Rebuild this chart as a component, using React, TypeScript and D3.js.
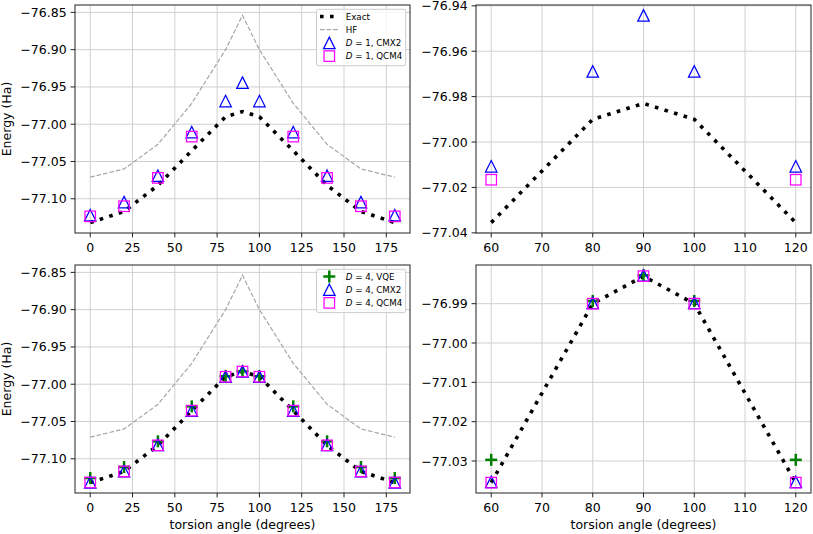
import React from "react";
import * as d3 from "d3";

// torsion angles (degrees)
const angles = [0, 20, 40, 60, 80, 90, 100, 120, 140, 160, 180];

// energies (Ha)
const exactE = [-77.132, -77.117, -77.082, -77.0355, -76.99, -76.983, -76.99, -77.0355, -77.082, -77.117, -77.132];
const hfE = [-77.071, -77.06, -77.027, -76.972, -76.9, -76.854, -76.9, -76.972, -77.027, -77.06, -77.071];
const d1Cmx2 = [-77.122, -77.1045, -77.069, -77.0107, -76.9689, -76.9442, -76.9689, -77.0107, -77.069, -77.1045, -77.122];
const d1Qcm4 = [-77.1236, -77.11, -77.072, -77.0166, null, null, null, -77.0166, -77.072, -77.11, -77.1236];
const d4Vqe = [-77.1258, -77.111, -77.0766, -77.0297, -76.9893, -76.9828, -76.9893, -77.0297, -77.0766, -77.111, -77.1258];
const d4Cmx2 = [-77.1315, -77.1165, -77.0815, -77.0353, -76.9898, -76.9828, -76.9898, -77.0353, -77.0815, -77.1165, -77.1315];
const d4Qcm4 = [-77.1318, -77.117, -77.082, -77.0355, -76.99, -76.983, -76.99, -77.0355, -77.082, -77.117, -77.1318];

// tick labels
const xTicksFull = [0, 25, 50, 75, 100, 125, 150, 175];
const xTicksZoom = [60, 70, 80, 90, 100, 110, 120];
const yTicksFull = [-77.1, -77.05, -77.0, -76.95, -76.9, -76.85];
const yTicksTopZoom = [-77.04, -77.02, -77.0, -76.98, -76.96, -76.94];
const yTicksBotZoom = [-77.03, -77.02, -77.01, -77.0, -76.99];

const FONT = "DejaVu Sans";
const fmt = d3.format(".2f");

type Kind = "exact" | "hf" | "tri" | "sq" | "plus";
type Series = { kind: Kind; values: (number | null)[]; label?: string[] };

const Marker = ({ kind, x, y }: { kind: Kind; x: number; y: number }) => {
  if (kind === "tri") {
    const s = 11.5;
    return (
      <path
        d={`M${x},${y - s / 2}L${x + s / 2},${y + s / 2}L${x - s / 2},${y + s / 2}Z`}
        fill="none"
        stroke="#0000ff"
        strokeWidth={1.25}
      />
    );
  }
  if (kind === "sq") {
    const s = 10.5;
    return <rect x={x - s / 2} y={y - s / 2} width={s} height={s} fill="none" stroke="#ff00ff" strokeWidth={1.25} />;
  }
  if (kind === "plus") {
    const s = 12;
    return (
      <g stroke="#008000" strokeWidth={2.5}>
        <line x1={x - s / 2} x2={x + s / 2} y1={y} y2={y} />
        <line x1={x} x2={x} y1={y - s / 2} y2={y + s / 2} />
      </g>
    );
  }
  return null;
};

const lineStyle = (kind: Kind) =>
  kind === "exact"
    ? { stroke: "#000", strokeWidth: 3.6, strokeDasharray: "3.6 6.4" }
    : { stroke: "#a6a6a6", strokeWidth: 1.2, strokeDasharray: "4.6 2" };

type PanelProps = {
  id: string;
  left: number;
  top: number;
  width: number;
  height: number;
  xRange: [number, number];
  xTicks: number[];
  yTicks: number[];
  series: Series[];
  legendTop?: number;
  xLabel?: boolean;
  yLabel?: boolean;
};

const Panel = ({ id, left, top, width, height, xRange, xTicks, yTicks, series, legendTop, xLabel, yLabel }: PanelProps) => {
  // matplotlib style 5% margins around the visible data
  const pts: [number, number][] = [];
  series.forEach((s) =>
    s.values.forEach((v, i) => {
      if (v != null && angles[i] >= xRange[0] && angles[i] <= xRange[1]) pts.push([angles[i], v]);
    })
  );
  const [x0, x1] = d3.extent(pts, (p) => p[0]) as [number, number];
  const [y0, y1] = d3.extent(pts, (p) => p[1]) as [number, number];
  const mx = (x1 - x0) * 0.05;
  const my = (y1 - y0) * 0.05;
  const xScale = d3.scaleLinear().domain([x0 - mx, x1 + mx]).range([left, left + width]);
  const yScale = d3.scaleLinear().domain([y0 - my, y1 + my]).range([top + height, top]);

  const lineGen = d3
    .line<[number, number]>()
    .x((d) => xScale(d[0]))
    .y((d) => yScale(d[1]));

  const legendItems = series.filter((s) => s.label);
  const lx = left + width - 93.5;
  const lh = legendItems.length * 13.1 + 4;

  return (
    <g>
      <defs>
        <clipPath id={id}>
          <rect x={left} y={top} width={width} height={height} />
        </clipPath>
      </defs>
      {/* grid */}
      <g stroke="#d0d0d0" strokeWidth={1}>
        {xTicks.map((t) => (
          <line key={"gx" + t} x1={xScale(t)} x2={xScale(t)} y1={top} y2={top + height} />
        ))}
        {yTicks.map((t) => (
          <line key={"gy" + t} x1={left} x2={left + width} y1={yScale(t)} y2={yScale(t)} />
        ))}
      </g>
      <g clipPath={`url(#${id})`}>
        {series.map((s, si) => {
          const data = s.values
            .map((v, i) => [angles[i], v] as [number, number | null])
            .filter((d) => d[1] != null && d[0] >= xRange[0] && d[0] <= xRange[1]) as [number, number][];
          if (s.kind === "exact" || s.kind === "hf") {
            return <path key={si} d={lineGen(data) || ""} fill="none" {...lineStyle(s.kind)} />;
          }
          return (
            <g key={si}>
              {data.map((d, i) => (
                <Marker key={i} kind={s.kind} x={xScale(d[0])} y={yScale(d[1])} />
              ))}
            </g>
          );
        })}
      </g>
      {/* spines */}
      <rect x={left} y={top} width={width} height={height} fill="none" stroke="#222" strokeWidth={1} />
      {/* ticks */}
      <g fontFamily={FONT} fontSize={12.5} fill="#000">
        {xTicks.map((t) => (
          <g key={"tx" + t}>
            <line x1={xScale(t)} x2={xScale(t)} y1={top + height} y2={top + height + 4.4} stroke="#222" />
            <text x={xScale(t)} y={top + height + 18.5} textAnchor="middle">
              {t}
            </text>
          </g>
        ))}
        {yTicks.map((t) => (
          <g key={"ty" + t}>
            <line x1={left - 4.4} x2={left} y1={yScale(t)} y2={yScale(t)} stroke="#222" />
            <text x={left - 8.4} y={yScale(t) + 4.5} textAnchor="end">
              {fmt(t)}
            </text>
          </g>
        ))}
        {xLabel && (
          <text x={left + width / 2} y={top + height + 35.8} textAnchor="middle">
            torsion angle (degrees)
          </text>
        )}
        {yLabel && (
          <text transform={`translate(11,${top + height / 2}) rotate(-90)`} textAnchor="middle">
            Energy (Ha)
          </text>
        )}
      </g>
      {legendTop != null && legendItems.length > 0 && (
        <g fontFamily={FONT} fontSize={8.7}>
          <rect x={lx} y={legendTop} width={89.2} height={lh} rx={2} fill="#fff" fillOpacity={0.8} stroke="#cccccc" strokeWidth={1} />
          {legendItems.map((s, i) => {
            const cy = legendTop + 7.2 + i * 13.2;
            const hx = lx + 12.8;
            return (
              <g key={i}>
                {s.kind === "exact" || s.kind === "hf" ? (
                  <line x1={lx + 3.5} x2={lx + 22} y1={cy} y2={cy} {...lineStyle(s.kind)} />
                ) : (
                  <Marker kind={s.kind} x={hx} y={cy} />
                )}
                <text x={lx + 29.2} y={cy + 3.1}>
                  {s.label!.length > 1 ? (
                    <>
                      <tspan fontStyle="italic">{s.label![0]}</tspan>
                      <tspan>{s.label![1]}</tspan>
                    </>
                  ) : (
                    s.label![0]
                  )}
                </text>
              </g>
            );
          })}
        </g>
      )}
    </g>
  );
};

const App = () => {
  const topSeries: Series[] = [
    { kind: "exact", values: exactE, label: ["Exact"] },
    { kind: "hf", values: hfE, label: ["HF"] },
    { kind: "tri", values: d1Cmx2, label: ["D", " = 1, CMX2"] },
    { kind: "sq", values: d1Qcm4, label: ["D", " = 1, QCM4"] },
  ];
  const topZoom: Series[] = [
    { kind: "exact", values: exactE },
    { kind: "tri", values: d1Cmx2 },
    { kind: "sq", values: d1Qcm4 },
  ];
  const botSeries: Series[] = [
    { kind: "exact", values: exactE },
    { kind: "hf", values: hfE },
    { kind: "plus", values: d4Vqe, label: ["D", " = 4, VQE"] },
    { kind: "tri", values: d4Cmx2, label: ["D", " = 4, CMX2"] },
    { kind: "sq", values: d4Qcm4, label: ["D", " = 4, QCM4"] },
  ];
  const botZoom: Series[] = [
    { kind: "exact", values: exactE },
    { kind: "plus", values: d4Vqe },
    { kind: "tri", values: d4Cmx2 },
    { kind: "sq", values: d4Qcm4 },
  ];

  return (
    <svg width={813} height={534} style={{ position: "absolute", left: 0, top: 0, background: "#fff" }}>
      <Panel id="c1" left={75} top={5} width={335} height={228} xRange={[0, 180]} xTicks={xTicksFull} yTicks={yTicksFull} series={topSeries} legendTop={9.3} yLabel />
      <Panel id="c2" left={476} top={5} width={335} height={228} xRange={[60, 120]} xTicks={xTicksZoom} yTicks={yTicksTopZoom} series={topZoom} />
      <Panel id="c3" left={75} top={265} width={335} height={228} xRange={[0, 180]} xTicks={xTicksFull} yTicks={yTicksFull} series={botSeries} legendTop={269.3} xLabel yLabel />
      <Panel id="c4" left={476} top={265} width={335} height={228} xRange={[60, 120]} xTicks={xTicksZoom} yTicks={yTicksBotZoom} series={botZoom} xLabel />
    </svg>
  );
};

export default App;
